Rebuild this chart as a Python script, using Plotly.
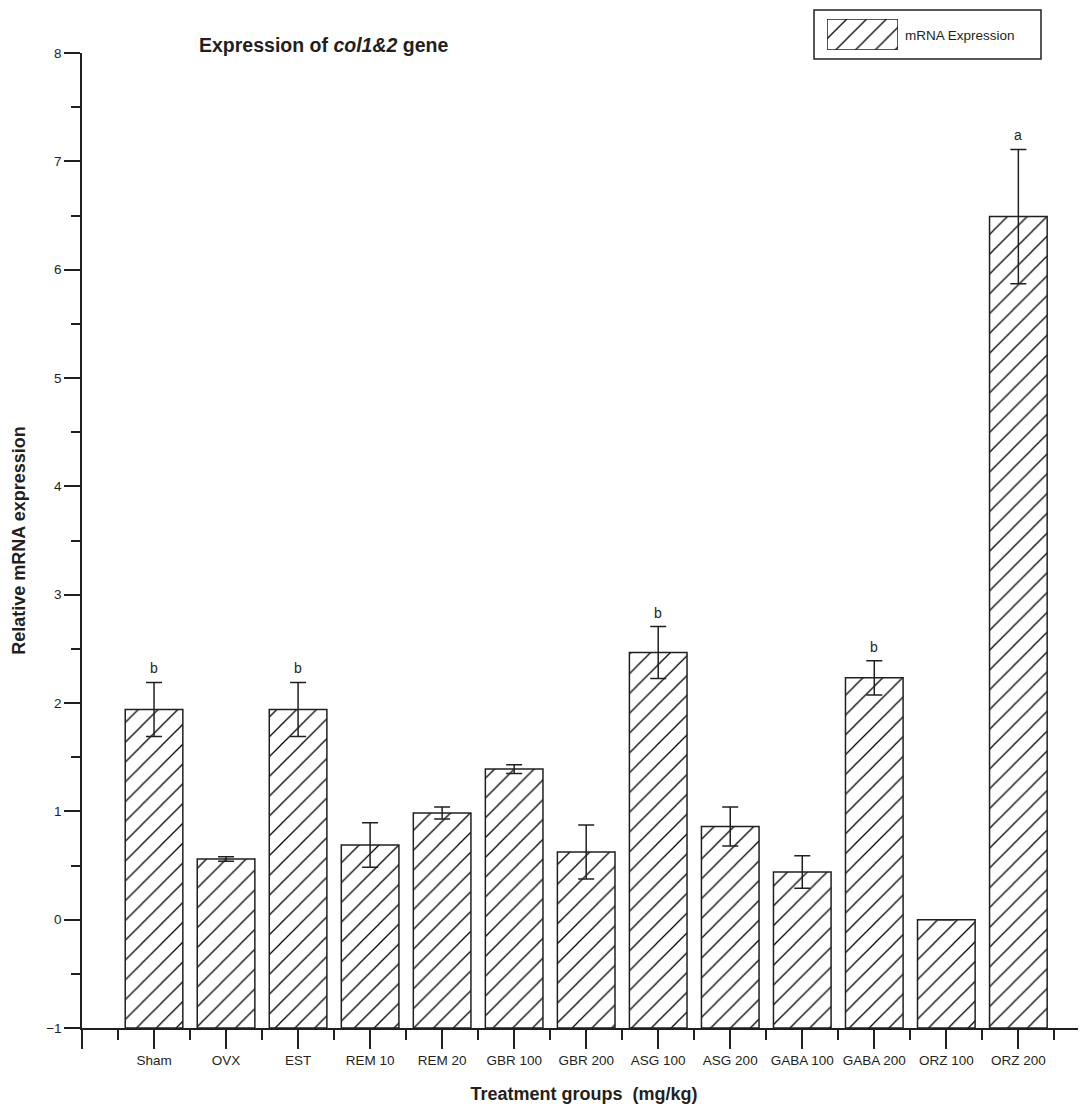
import plotly.graph_objects as go

categories = ["Sham", "OVX", "EST", "REM 10", "REM 20", "GBR 100", "GBR 200",
              "ASG 100", "ASG 200", "GABA 100", "GABA 200", "ORZ 100", "ORZ 200"]
values = [1.94, 0.56, 1.94, 0.69, 0.985, 1.39, 0.625, 2.466, 0.86, 0.44, 2.232, 0.0, 6.49]
errors = [0.25, 0.02, 0.25, 0.205, 0.055, 0.04, 0.25, 0.24, 0.18, 0.15, 0.157, 0.0, 0.62]
letters = ["b", "", "b", "", "", "", "", "b", "", "", "b", "", "a"]
y_ticks = [-1, 0, 1, 2, 3, 4, 5, 6, 7, 8]
baseline = -1

INK = "#231f20"
FONT = "Liberation Sans, Arial, sans-serif"

# page body adds an 8px margin; compensate so the chart lands where the reference is
OFF = 8
W, H = 1086 - OFF, 1104 - OFF
ML = 82 - OFF
MR = 0
MT = 0
MB = 76
PW = W - ML - MR
PH = H - MT - MB


def px_x(px):
    return (px - OFF - ML) / PW


def px_y(py):
    return 1 - (py - OFF - MT) / PH


xs = list(range(len(categories)))
pattern = dict(shape="/", fgcolor="#000000", fgopacity=1, bgcolor="white",
               size=14, solidity=0.09)

fig = go.Figure()
fig.add_trace(go.Bar(
    x=xs,
    y=[v - baseline for v in values],
    base=baseline,
    width=0.8,
    marker=dict(color="white", pattern=pattern, line=dict(color=INK, width=1.5)),
    name="mRNA Expression",
    showlegend=False,
))
fig.add_trace(go.Scatter(
    x=xs, y=values, mode="markers",
    marker=dict(size=1, opacity=0),
    error_y=dict(type="data", array=errors, visible=True, color=INK, thickness=1.5, width=8),
    showlegend=False, hoverinfo="skip",
))

# legend swatch drawn as a patterned bar in an inset axis
fig.add_trace(go.Bar(
    x=[0], y=[1], width=1, xaxis="x2", yaxis="y2",
    marker=dict(color="white", pattern=pattern, line=dict(color=INK, width=1.5)),
    showlegend=False, hoverinfo="skip",
))

annotations = []
for x, v, e, t in zip(xs, values, errors, letters):
    if t:
        annotations.append(dict(x=x, y=v + e, xref="x", yref="y", text=t, showarrow=False,
                                yanchor="bottom", yshift=4,
                                font=dict(family=FONT, size=14, color=INK)))

annotations.append(dict(xref="paper", yref="paper", x=px_x(197), y=px_y(45),
                        xanchor="left", yanchor="middle", showarrow=False,
                        text="<b>Expression of <i>col1&amp;2</i> gene</b>",
                        font=dict(family=FONT, size=19.5, color=INK)))
annotations.append(dict(xref="paper", yref="paper", x=px_x(903), y=px_y(35),
                        xanchor="left", yanchor="middle", showarrow=False,
                        text="mRNA Expression",
                        font=dict(family=FONT, size=13.5, color=INK)))

shapes = [dict(type="rect", xref="paper", yref="paper",
               x0=px_x(814), x1=px_x(1041), y0=px_y(59), y1=px_y(10),
               line=dict(color=INK, width=1.5), fillcolor="rgba(0,0,0,0)")]

fig.update_layout(
    width=W, height=H,
    margin=dict(l=ML, r=MR, t=MT, b=MB, pad=0),
    paper_bgcolor="white", plot_bgcolor="white",
    bargap=0.2,
    showlegend=False,
    font=dict(family=FONT, size=13.5, color=INK),
    annotations=annotations,
    shapes=shapes,
    xaxis=dict(
        range=[-1, (1086 - 154.3) / 72.0 - 0.001],
        tickvals=[-1] + xs, ticktext=[""] + categories,
        ticks="outside", ticklen=19, tickwidth=1.5, tickcolor=INK,
        minor=dict(tickvals=[x - 0.5 for x in xs] + [xs[-1] + 0.5], ticks="outside",
                   ticklen=10, tickwidth=1.5, tickcolor=INK),
        showline=True, linecolor=INK, linewidth=1.5,
        showgrid=False, zeroline=False,
        tickfont=dict(family=FONT, size=13.5, color=INK),
        title=dict(text="<b>Treatment groups  (mg/kg)</b>", standoff=20,
                   font=dict(family=FONT, size=18, color=INK)),
        automargin=False,
        domain=[0, 1],
    ),
    yaxis=dict(
        range=[-1, 8],
        tickvals=y_ticks,
        ticks="outside", ticklen=16, tickwidth=1.5, tickcolor=INK,
        minor=dict(dtick=0.5, ticks="outside", ticklen=9, tickwidth=1.5, tickcolor=INK),
        showline=True, linecolor=INK, linewidth=1.5,
        showgrid=False, zeroline=False,
        tickfont=dict(family=FONT, size=13.5, color=INK),
        title=dict(text="<b>Relative mRNA expression</b>", standoff=16,
                   font=dict(family=FONT, size=18, color=INK)),
        automargin=False,
        domain=[0, px_y(53)],
    ),
    xaxis2=dict(domain=[px_x(827), px_x(898)], range=[-0.5, 0.5], visible=False,
                anchor="y2", fixedrange=True),
    yaxis2=dict(domain=[px_y(50), px_y(19)], range=[0, 1], visible=False,
                anchor="x2", fixedrange=True),
)

fig.write_html("out.html")
